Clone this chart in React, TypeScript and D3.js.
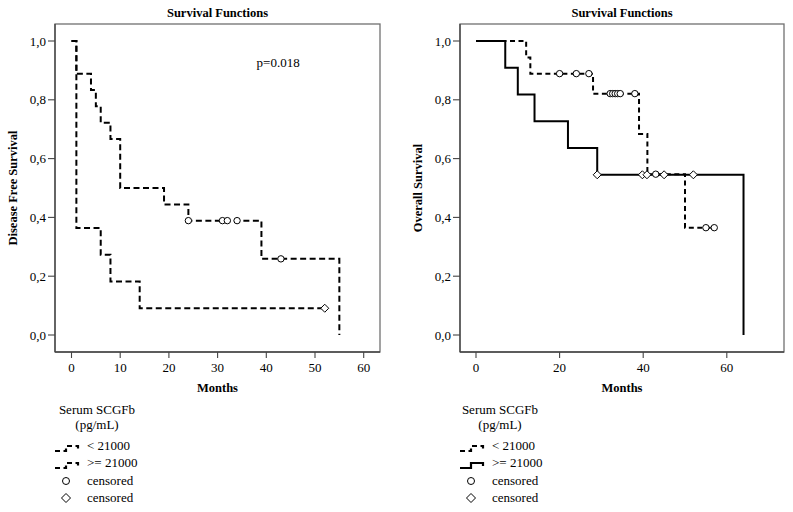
import React from "react";
import * as d3 from "d3";

// ---------- Data ----------
// Left panel: Disease Free Survival
const dfsLowTimes = [0, 1, 4, 5, 6, 8, 10, 19, 24, 39, 55];
const dfsLowSurv = [1, 0.889, 0.833, 0.778, 0.722, 0.667, 0.5, 0.444, 0.389, 0.259, 0];
const dfsLowCensTimes = [24, 31, 32, 34, 43];
const dfsLowCensSurv = [0.389, 0.389, 0.389, 0.389, 0.259];

const dfsHighTimes = [0, 1, 6, 8, 14, 52];
const dfsHighSurv = [1, 0.364, 0.273, 0.182, 0.091, 0.091];
const dfsHighCensTimes = [52];
const dfsHighCensSurv = [0.091];

// Right panel: Overall Survival
const osLowTimes = [0, 12, 13, 28, 39, 41, 50, 57];
const osLowSurv = [1, 0.944, 0.889, 0.821, 0.684, 0.547, 0.365, 0.365];
const osLowCensTimes = [20, 24, 27, 32.1, 32.7, 33.3, 33.9, 34.5, 38, 43, 55, 57];
const osLowCensSurv = [0.889, 0.889, 0.889, 0.821, 0.821, 0.821, 0.821, 0.821, 0.821, 0.547, 0.365, 0.365];

const osHighTimes = [0, 7, 10, 14, 22, 29, 64];
const osHighSurv = [1, 0.909, 0.818, 0.727, 0.636, 0.545, 0];
const osHighCensTimes = [29, 39.8, 40.9, 45, 52];
const osHighCensSurv = [0.545, 0.545, 0.545, 0.545, 0.545];

const yTicks = [0, 0.2, 0.4, 0.6, 0.8, 1.0];
const xTicksLeft = [0, 10, 20, 30, 40, 50, 60];
const xTicksRight = [0, 20, 40, 60];

const legendTitle = ["Serum SCGFb", "(pg/mL)"];
const legendLabels = ["< 21000", ">= 21000", "censored", "censored"];

const FONT = "'Liberation Serif', 'Times New Roman', serif";

type Series = { t: number[]; s: number[]; dash: string | null; width: number };
type Cens = { t: number[]; s: number[]; shape: "circle" | "diamond" };

function Panel(props: {
  x0: number; x1: number; top: number; bottom: number;
  xZeroPx: number; xTenPx: number;
  xTicks: number[]; yLabel: string; title: string;
  series: Series[]; cens: Cens[]; pText?: string;
  legendX: number; legendCenter: number; legendSecondSolid: boolean; legendDash: string;
}) {
  const { x0, x1, top, bottom } = props;
  const x = d3.scaleLinear().domain([0, 10]).range([props.xZeroPx, props.xTenPx]);
  const y = d3.scaleLinear().domain([0, 1]).range([335, 41]);
  const line = d3.line<[number, number]>().x(d => x(d[0])).y(d => y(d[1])).curve(d3.curveStepAfter);
  const fmt = (v: number) => v.toFixed(1).replace(".", ",");
  const titleX = (x0 + x1) / 2;
  const lx = props.legendX;
  const ls = lx - 32;
  const rowY = [450, 467, 485, 502];
  return (
    <g fontFamily={FONT}>
      <text x={titleX} y={17} textAnchor="middle" fontWeight="bold" fontSize={12.5}>{props.title}</text>
      <rect x={x0} y={top} width={x1 - x0} height={bottom - top} fill="none" stroke="#707070" strokeWidth={1.3} />
      <line x1={x0} x2={x0} y1={top} y2={bottom} stroke="#444" strokeWidth={1.3} />
      <line x1={x0} x2={x1} y1={bottom} y2={bottom} stroke="#444" strokeWidth={1.3} />
      {yTicks.map(v => (
        <g key={"y" + v}>
          <line x1={x0 - 7} x2={x0} y1={y(v)} y2={y(v)} stroke="#444" strokeWidth={1.1} />
          <text x={x0 - 9} y={y(v) + 4.5} textAnchor="end" fontSize={13}>{fmt(v)}</text>
        </g>
      ))}
      {props.xTicks.map(v => (
        <g key={"x" + v}>
          <line x1={x(v)} x2={x(v)} y1={bottom} y2={bottom + 6} stroke="#444" strokeWidth={1.1} />
          <text x={x(v)} y={372} textAnchor="middle" fontSize={13}>{v}</text>
        </g>
      ))}
      <text x={titleX} y={392} textAnchor="middle" fontWeight="bold" fontSize={12.5}>Months</text>
      <text transform={`translate(${x0 - 38},${188}) rotate(-90)`} textAnchor="middle" fontWeight="bold" fontSize={12.5}>{props.yLabel}</text>
      {props.pText && <text x={x(38)} y={67} fontSize={13}>{props.pText}</text>}
      {props.series.map((sr, i) => (
        <path key={"s" + i} d={line(sr.t.map((t, j) => [t, sr.s[j]] as [number, number])) || ""}
          fill="none" stroke="#000" strokeWidth={sr.width} strokeDasharray={sr.dash || undefined} />
      ))}
      {props.cens.map((c, i) => c.t.map((t, j) => {
        const cx = x(t), cy = y(c.s[j]);
        return c.shape === "circle"
          ? <circle key={`c${i}-${j}`} cx={cx} cy={cy} r={3.2} fill="#fff" stroke="#000" strokeWidth={1} />
          : <path key={`c${i}-${j}`} d={`M${cx - 4},${cy} L${cx},${cy - 4} L${cx + 4},${cy} L${cx},${cy + 4} Z`} fill="#fff" stroke="#000" strokeWidth={1} />;
      }))}
      {/* legend */}
      <text x={props.legendCenter} y={414} textAnchor="middle" fontSize={13}>{legendTitle[0]}</text>
      <text x={props.legendCenter} y={429} textAnchor="middle" fontSize={13}>{legendTitle[1]}</text>
      <path d={`M${ls},${rowY[0] + 1} H${ls + 11} V${rowY[0] - 4} H${ls + 23} V${rowY[0] - 1}`} fill="none" stroke="#000" strokeWidth={2.2} strokeDasharray={props.legendDash} />
      <path d={`M${ls},${rowY[1] + 1} H${ls + 11} V${rowY[1] - 4} H${ls + 23} V${rowY[1] - 1}`} fill="none" stroke="#000" strokeWidth={2.2} strokeDasharray={props.legendSecondSolid ? undefined : props.legendDash} />
      <circle cx={ls + 11} cy={rowY[2] - 4} r={3.5} fill="#fff" stroke="#000" strokeWidth={1} />
      <path d={`M${ls + 6.5},${rowY[3] - 4} L${ls + 11},${rowY[3] - 8.5} L${ls + 15.5},${rowY[3] - 4} L${ls + 11},${rowY[3] + 0.5} Z`} fill="#fff" stroke="#000" strokeWidth={1} />
      {legendLabels.map((l, i) => (
        <text key={"l" + i} x={lx} y={rowY[i]} fontSize={13}>{l}</text>
      ))}
    </g>
  );
}

export default function App() {
  return (
    <svg width={793} height={512} style={{ position: "absolute", left: 0, top: 0, background: "#fff" }}>
      <rect width={793} height={512} fill="#fff" />
      <Panel
        x0={55} x1={380} top={24} bottom={352}
        xZeroPx={71.5} xTenPx={120.2}
        xTicks={xTicksLeft} yLabel="Disease Free Survival" title="Survival Functions"
        series={[
          { t: dfsLowTimes, s: dfsLowSurv, dash: "6,3.5", width: 2 },
          { t: dfsHighTimes, s: dfsHighSurv, dash: "6,3.5", width: 2 },
        ]}
        cens={[
          { t: dfsLowCensTimes, s: dfsLowCensSurv, shape: "circle" },
          { t: dfsHighCensTimes, s: dfsHighCensSurv, shape: "diamond" },
        ]}
        pText="p=0.018"
        legendX={87} legendCenter={97} legendSecondSolid={false} legendDash="5,3.5"
      />
      <Panel
        x0={460} x1={784} top={24} bottom={352}
        xZeroPx={476} xTenPx={517.8}
        xTicks={xTicksRight} yLabel="Overall Survival" title="Survival Functions"
        series={[
          { t: osHighTimes, s: osHighSurv, dash: null, width: 2 },
          { t: osLowTimes, s: osLowSurv, dash: "5,3.5", width: 2 },
        ]}
        cens={[
          { t: osLowCensTimes, s: osLowCensSurv, shape: "circle" },
          { t: osHighCensTimes, s: osHighCensSurv, shape: "diamond" },
        ]}
        legendX={492} legendCenter={500} legendSecondSolid={true} legendDash="5,3.5"
      />
    </svg>
  );
}
